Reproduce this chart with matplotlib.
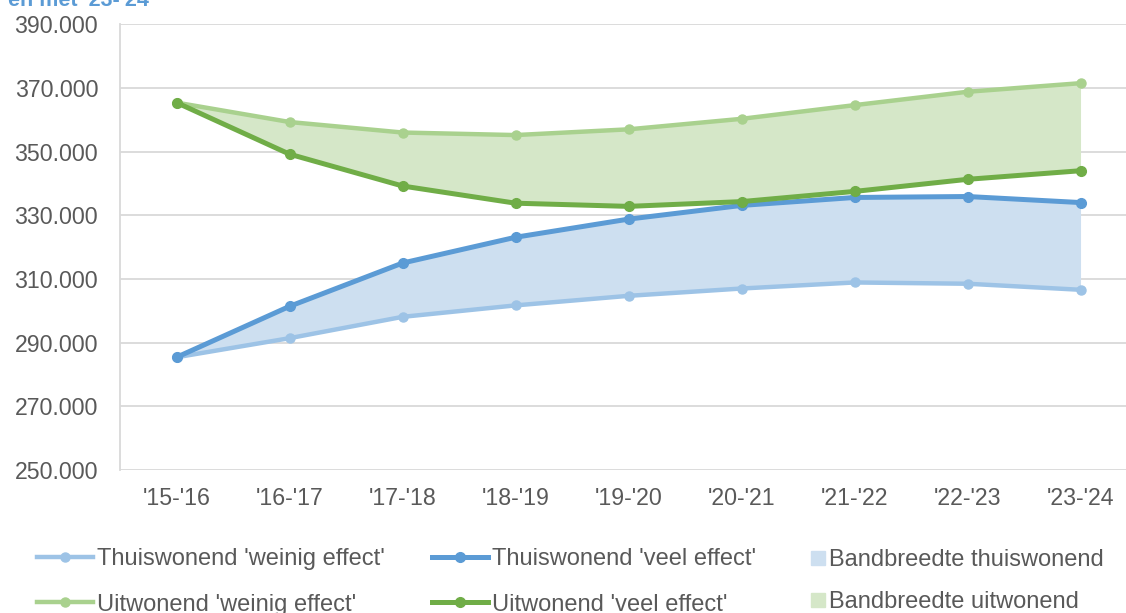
import matplotlib.pyplot as plt
from matplotlib.lines import Line2D
from matplotlib.ticker import FuncFormatter

plt.rcParams['font.family'] = ['Liberation Sans', 'DejaVu Sans']

years = ["'15-'16", "'16-'17", "'17-'18", "'18-'19", "'19-'20",
         "'20-'21", "'21-'22", "'22-'23", "'23-'24"]
thuis_weinig = [285400, 291400, 298100, 301700, 304700, 307000, 308900, 308500, 306600]
thuis_veel = [285400, 301400, 315000, 323100, 328800, 333100, 335600, 335900, 334000]
uit_weinig = [365400, 359300, 356000, 355200, 357000, 360300, 364600, 368800, 371500]
uit_veel = [365400, 349200, 339200, 333800, 332800, 334300, 337500, 341300, 344000]
yticks = [250000, 270000, 290000, 310000, 330000, 350000, 370000, 390000]

c_tw = '#9DC3E6'
c_tv = '#5B9BD5'
c_uw = '#A9D18E'
c_uv = '#70AD47'
c_band_t = '#CDDFF0'
c_band_u = '#D5E7C8'
grey = '#595959'

fig = plt.figure(figsize=(11.26, 6.13), dpi=100)
ax = fig.add_axes([0.1066, 0.2333, 0.9032, 0.7271])

x = range(len(years))
ax.fill_between(x, thuis_weinig, thuis_veel, color=c_band_t, lw=0, zorder=1)
ax.fill_between(x, uit_veel, uit_weinig, color=c_band_u, lw=0, zorder=1)

ax.plot(x, thuis_weinig, color=c_tw, lw=3.2, marker='o', ms=6.5, zorder=3,
        label="Thuiswonend 'weinig effect'")
ax.plot(x, uit_weinig, color=c_uw, lw=3.2, marker='o', ms=6.5, zorder=3,
        label="Uitwonend 'weinig effect'")
ax.plot(x, thuis_veel, color=c_tv, lw=3.6, marker='o', ms=7, zorder=4,
        label="Thuiswonend 'veel effect'")
ax.plot(x, uit_veel, color=c_uv, lw=3.6, marker='o', ms=7, zorder=4,
        label="Uitwonend 'veel effect'")

ax.set_xlim(-0.5, len(years) - 0.5)
ax.set_ylim(yticks[0], yticks[-1])
ax.set_yticks(yticks)
ax.yaxis.set_major_formatter(FuncFormatter(lambda v, p: f'{int(v):,}'.replace(',', '.')))
ax.set_xticks(list(x))
ax.set_xticklabels(years)
ax.grid(axis='y', color='#D9D9D9', lw=1.3, zorder=0)
ax.set_axisbelow(True)
for s in ['top', 'right', 'bottom']:
    ax.spines[s].set_visible(False)
ax.spines['left'].set_color('#D9D9D9')
ax.spines['left'].set_linewidth(1.3)
ax.tick_params(axis='both', length=0, colors=grey, labelsize=16.7)
ax.tick_params(axis='x', pad=12)
ax.tick_params(axis='y', pad=15.8)

h, l = ax.get_legend_handles_labels()
leg1 = fig.legend(h, l, ncol=2, loc='upper left', bbox_to_anchor=(0.033, 0.106),
                  frameon=False, fontsize=17, handlelength=2.37, handletextpad=0.16,
                  columnspacing=2.0, labelspacing=1.0, labelcolor=grey,
                  borderaxespad=0, borderpad=0)
bands = [Line2D([], [], ls='none', marker='s', ms=9.4, color=c_band_t),
         Line2D([], [], ls='none', marker='s', ms=9.4, color=c_band_u)]
leg2 = fig.legend(bands, ['Bandbreedte thuiswonend', 'Bandbreedte uitwonend'],
                  loc='upper left', bbox_to_anchor=(0.720, 0.104), frameon=False,
                  fontsize=17, handlelength=0.6, handletextpad=0.17, labelspacing=0.85,
                  labelcolor=grey, borderaxespad=0, borderpad=0)

fig.text(0.007, 1 - 6 / 613, "en met '23-'24", color='#5B9BD5', fontsize=15.5,
         fontweight='bold', va='baseline', ha='left')

fig.savefig('out.png', dpi=100)
